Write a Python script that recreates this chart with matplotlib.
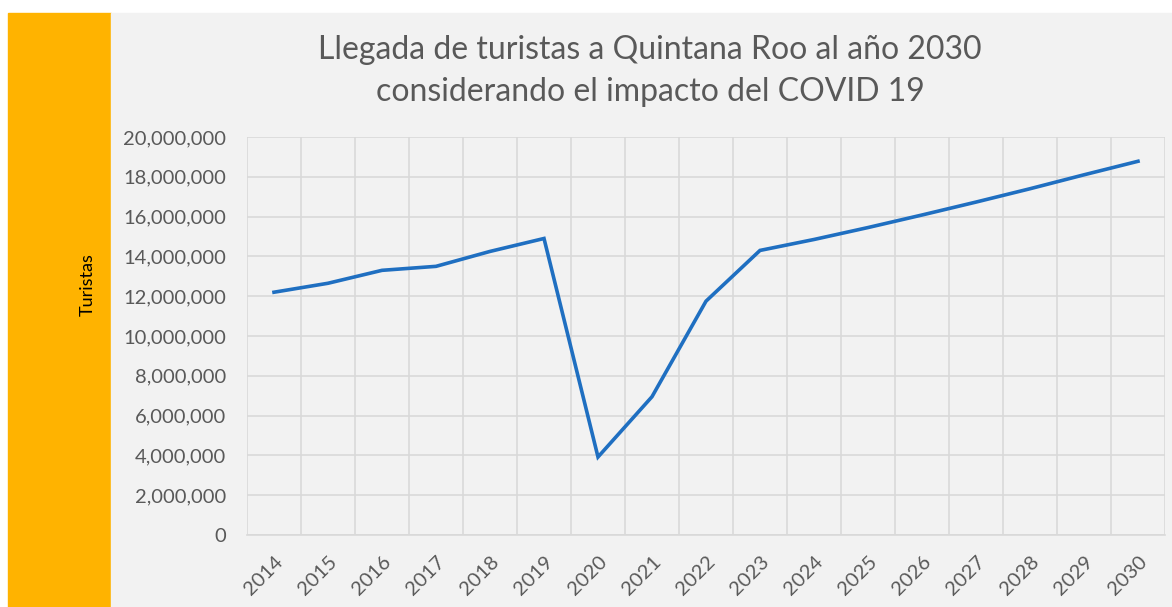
import matplotlib.pyplot as plt
from matplotlib.patches import Rectangle
from matplotlib.ticker import FuncFormatter, MultipleLocator

# Data
years = ['2014', '2015', '2016', '2017', '2018', '2019', '2020', '2021', '2022',
         '2023', '2024', '2025', '2026', '2027', '2028', '2029', '2030']
turistas = [12200000, 12650000, 13300000, 13500000, 14250000, 14900000, 3920000,
            6950000, 11750000, 14300000, 14850000, 15450000, 16080000, 16730000,
            17400000, 18100000, 18780000]

plt.rcParams['font.family'] = ['Lato', 'DejaVu Sans']

fig = plt.figure(figsize=(11.72, 6.07), dpi=100, facecolor='white')
W, H = 1172, 607

# orange side band and gray panel
fig.patches.append(Rectangle((8 / W, 0), 103 / W, (H - 13) / H,
                             transform=fig.transFigure, color='#FFB300', zorder=-2))
fig.patches.append(Rectangle((111 / W, 0), (W - 111) / W, (H - 13) / H,
                             transform=fig.transFigure, color='#F2F2F2', zorder=-2))

ax = fig.add_axes([247 / W, (H - 535) / H, (1165 - 247) / W, (535 - 137) / H])
ax.set_zorder(2)
ax.set_facecolor('#F2F2F2')

x = list(range(len(years)))
ax.plot(x, turistas, color='#1F6FC1', linewidth=2.6, solid_joinstyle='miter', zorder=3)

ax.set_xlim(-0.5, len(years) - 0.5)
ax.set_ylim(0, 20000000)
ax.yaxis.set_major_locator(MultipleLocator(2000000))
ax.yaxis.set_major_formatter(FuncFormatter(lambda v, p: f'{int(v):,}'))
ax.set_xticks(x)
ax.set_xticklabels(years, rotation=45, ha='right', rotation_mode='anchor')
ax.set_xticks([i - 0.5 for i in range(len(years) + 1)], minor=True)

ax.grid(True, which='major', axis='y', color='#D9D9D9', linewidth=1.2)
ax.grid(True, which='minor', axis='x', color='#D9D9D9', linewidth=1.2)
ax.tick_params(axis='both', which='both', length=0, colors='#595959', labelsize=14.5)
ax.tick_params(axis='y', pad=15)
ax.tick_params(axis='x', pad=13)
for s in ['top', 'right', 'left']:
    ax.spines[s].set_visible(False)
ax.spines['bottom'].set_color('#D9D9D9')
ax.spines['bottom'].set_linewidth(1.2)

fig.text(650 / W, 1 - 71 / H,
         'Llegada de turistas a Quintana Roo al año 2030\nconsiderando el impacto del COVID 19',
         ha='center', va='center', fontsize=23, color='#595959', linespacing=1.5)

fig.text(88 / W, 1 - 285 / H, 'Turistas', rotation=90, ha='center', va='center',
         fontsize=13, color='black')

fig.savefig('out.png', dpi=100, facecolor='white')
